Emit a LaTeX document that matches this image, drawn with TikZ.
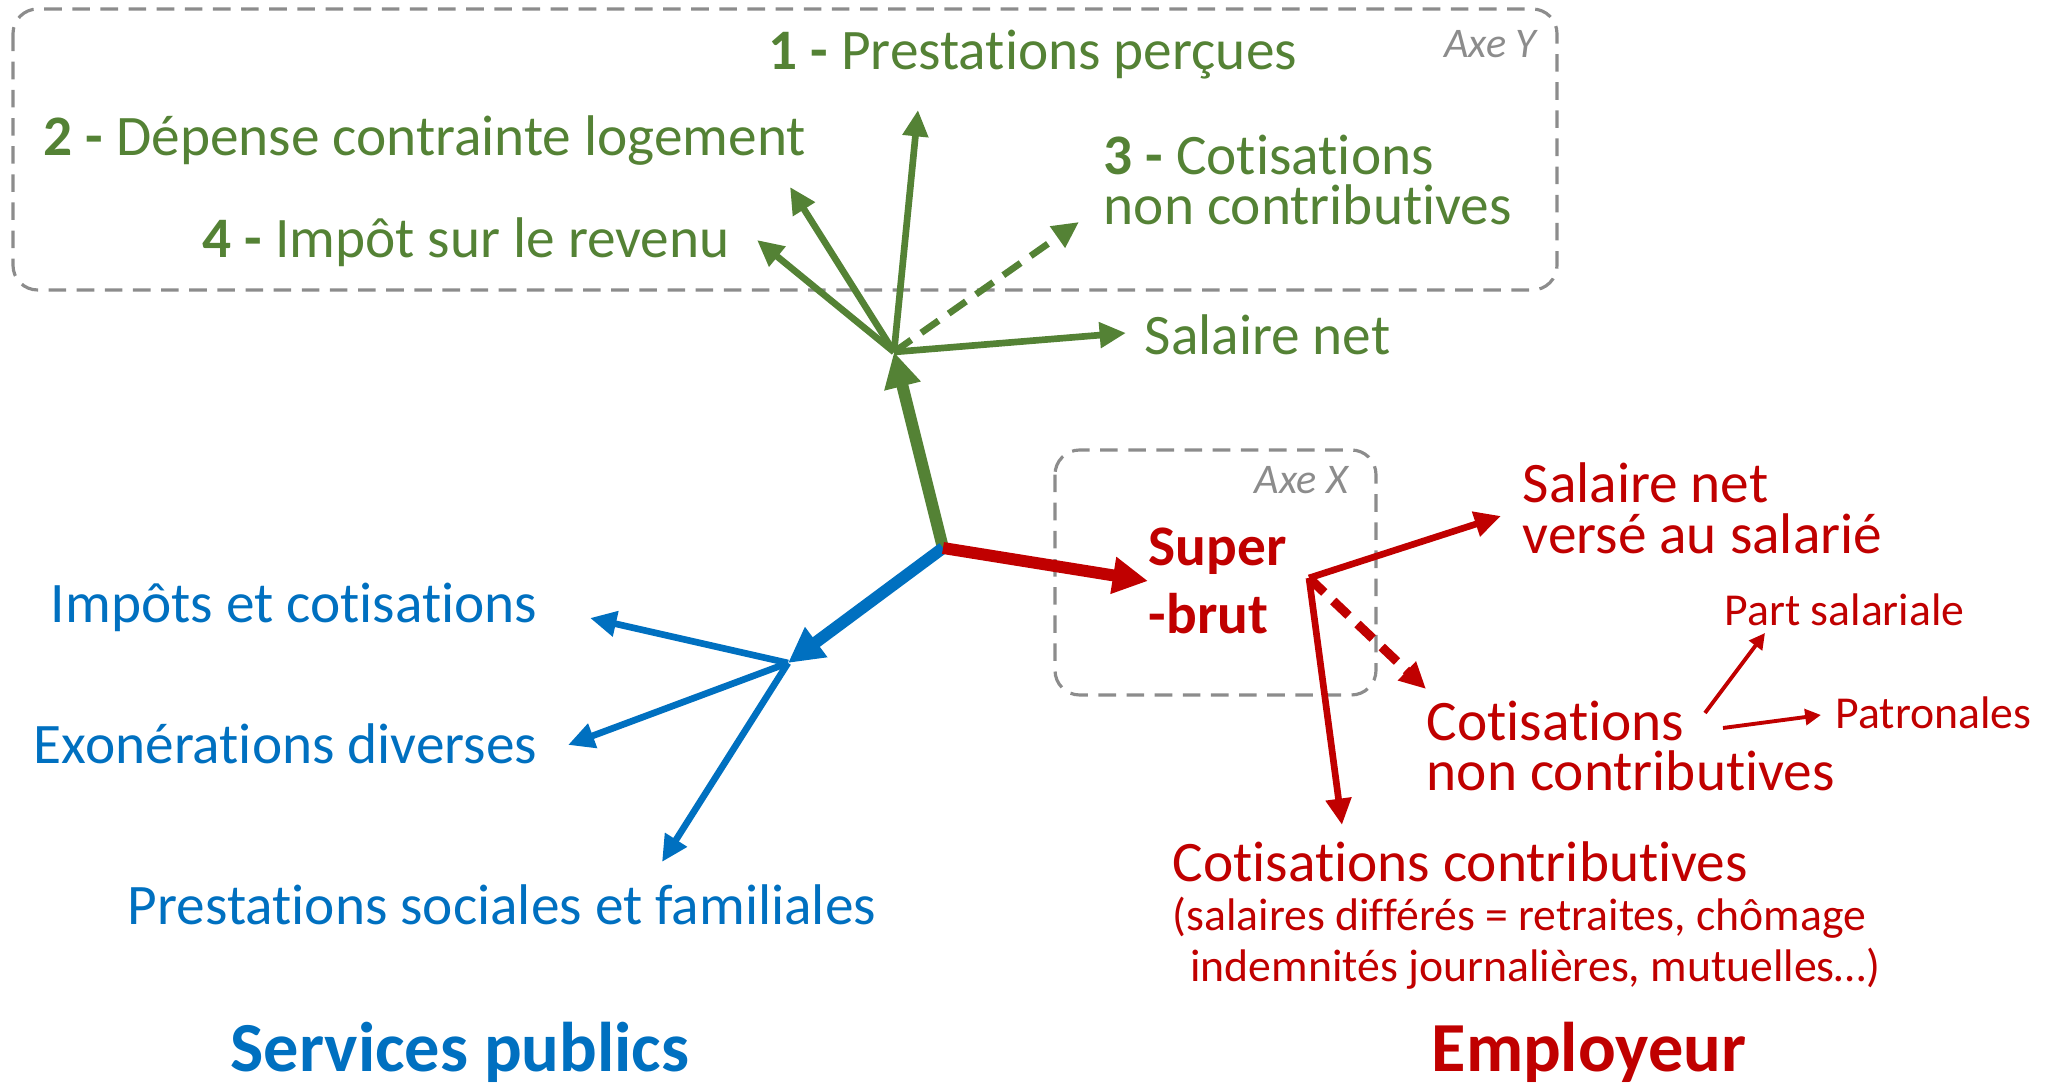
\documentclass[tikz,border=0pt]{standalone}
\usepackage{fontspec}
\setmainfont{Carlito}[Ligatures=NoCommon]
\usetikzlibrary{arrows.meta}

\definecolor{vert}{HTML}{548235}
\definecolor{bleu}{HTML}{0070C0}
\definecolor{rouge}{HTML}{C00000}
\definecolor{gris}{HTML}{8C8C8C}

\begin{document}
\begin{tikzpicture}[x=0.01cm,y=-0.01cm,>={Triangle[length=7.5pt,width=7pt]},
    lbl/.style={inner sep=0pt,font=\fontsize{16.3}{14.5}\selectfont},
    small/.style={inner sep=0pt,font=\fontsize{13}{14.5}\selectfont},
    big/.style={inner sep=0pt,font=\fontsize{20}{24}\selectfont\bfseries},
    axe/.style={draw=gris,line width=0.9pt,dash pattern=on 5pt off 3pt,rounded corners=7pt},
    axe label/.style={inner sep=0pt,text=gris,font=\fontsize{12}{14}\selectfont\itshape},
    fleche/.style={->,line width=1.9pt},
    grosse/.style={-{Triangle[length=10pt,width=10pt]},line width=3.4pt},
    petite/.style={-{Triangle[length=4.5pt,width=4.5pt]},line width=1.1pt},
    pointille/.style={dash pattern=on 6pt off 3.5pt}]

\useasboundingbox (0,0) rectangle (2047,1086);

% boites des axes
\draw[axe] (13,9) rectangle (1557,290);
\draw[axe] (1055,450) rectangle (1376,695);
\node[axe label,anchor=east] (axeY) at (1537,44) {Axe Y};
\node[axe label,anchor=east] (axeX) at (1349,480) {Axe X};

% axe Y
\node[lbl,text=vert,anchor=west] (prest) at (768,55) {\textbf{1 -} Prestations perçues};
\node[lbl,text=vert,anchor=west] (logement) at (43,141) {\textbf{2 -} Dépense contrainte logement};
\node[lbl,text=vert,anchor=west] (impot) at (202,242) {\textbf{4 -} Impôt sur le revenu};
\node[lbl,text=vert,anchor=west,align=left] (cotisY) at (1103,180) {\textbf{3 -} Cotisations\\non contributives};
\node[lbl,text=vert,anchor=west] (netY) at (1144,335) {Salaire net};

% services publics
\node[lbl,text=bleu,anchor=east] (impots) at (538,607) {Impôts et cotisations};
\node[lbl,text=bleu,anchor=east] (exo) at (538,744) {Exonérations diverses};
\node[lbl,text=bleu] (prestsoc) at (502,905) {Prestations sociales et familiales};
\node[big,text=bleu] (services) at (460,1052) {Services publics};

% employeur
\node[lbl,text=rouge,anchor=west,align=left,font=\fontsize{16.3}{19.3}\selectfont\bfseries] (superbrut) at (1148,581) {Super\\-brut};
\node[lbl,text=rouge,anchor=west,align=left] (netX) at (1522,508) {Salaire net\\versé au salarié};
\node[lbl,text=rouge,anchor=west,align=left] (cotisX) at (1426,746) {Cotisations\\non contributives};
\node[small,text=rouge,anchor=west] (part) at (1724,610) {Part salariale};
\node[small,text=rouge,anchor=west] (patro) at (1835,713) {Patronales};
\node[lbl,text=rouge,anchor=west] (contrib) at (1172,862) {Cotisations contributives};
\node[small,text=rouge,anchor=west,align=left] (differes) at (1172,943) {(salaires différés = retraites, chômage\\\hspace*{5pt}indemnités journalières, mutuelles…)};
\node[big,text=rouge] (employeur) at (1589,1052) {Employeur};

% points de depart et pointes
\coordinate (centre) at (943,548);
\coordinate (hubY) at (894,352);
\coordinate (hubB) at (788,663);
\coordinate (hubR) at (1309,578);
\coordinate (y1) at (918,110);
\coordinate (y2) at (790,187);
\coordinate (y3) at (1079,222);
\coordinate (y4) at (757,240);
\coordinate (yn) at (1126,333);
\coordinate (b1) at (590,618);
\coordinate (b2) at (568,745);
\coordinate (b3) at (662,862);
\coordinate (r1) at (1501,516);
\coordinate (r2) at (1426,689);
\coordinate (r3) at (1342,825);
\coordinate (s1) at (1705,713);
\coordinate (s2) at (1765,633);
\coordinate (s3) at (1723,728);
\coordinate (s4) at (1821,715);

\path[color=vert]
(centre) edge[grosse] (hubY)
(hubY) edge[fleche] (y1)
(hubY) edge[fleche] (y2)
(hubY) edge[fleche] (y4)
(hubY) edge[fleche,pointille] (y3)
(hubY) edge[fleche] (yn)
;

\path[color=bleu]
(centre) edge[grosse] (hubB)
(hubB) edge[fleche] (b1)
(hubB) edge[fleche] (b2)
(hubB) edge[fleche] (b3)
;

\path[color=rouge]
(centre) edge[grosse] (superbrut.west)
(hubR) edge[fleche] (r1)
(hubR) edge[fleche,pointille,line width=2.6pt] (r2)
(hubR) edge[fleche] (r3)
(s1) edge[petite] (s2)
(s3) edge[petite] (s4)
;

\end{tikzpicture}
\end{document}
